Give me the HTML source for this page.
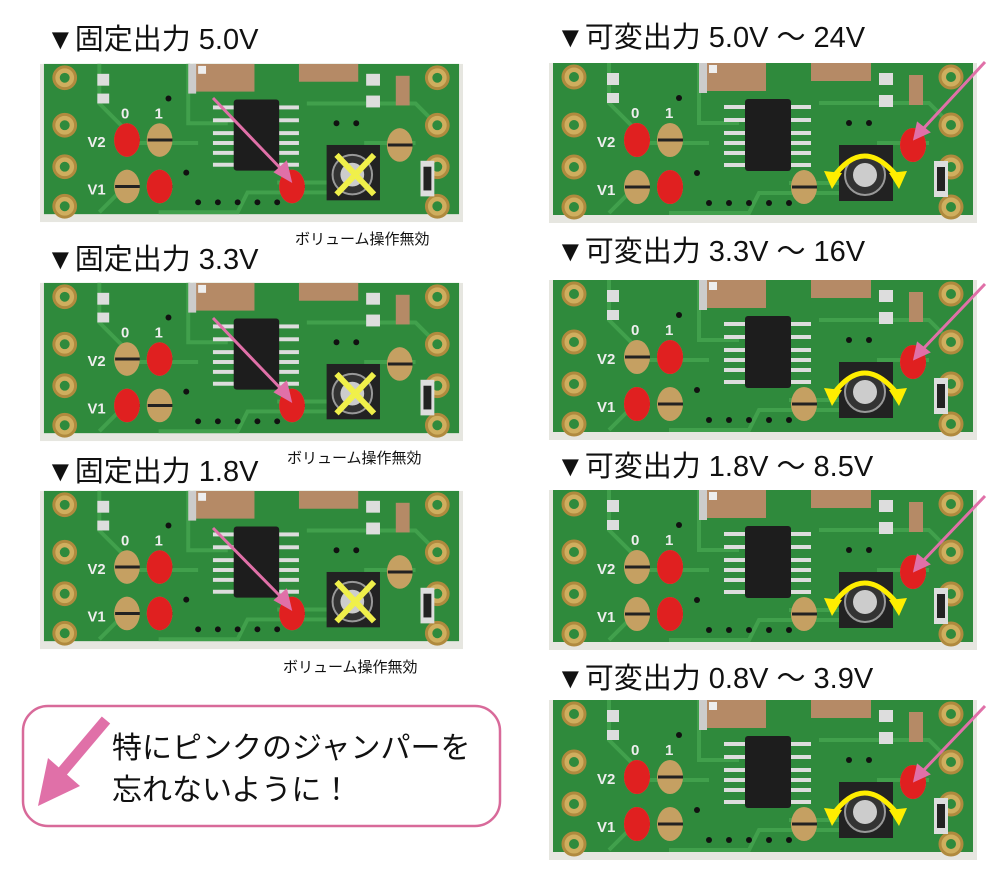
<!DOCTYPE html>
<html><head><meta charset="utf-8"><style>
body{margin:0;width:1000px;height:878px;background:#fff;position:relative;overflow:hidden;font-family:"Liberation Sans","Noto Sans CJK JP",sans-serif}
.h{position:absolute;font-size:29px;color:#111;white-space:nowrap;line-height:1}
.s{position:absolute;font-size:15px;color:#111;white-space:nowrap}
svg.p{position:absolute}
</style></head><body>
<svg width="0" height="0" style="position:absolute">
<defs>
<g id="b">
<rect x="0" y="0" width="428" height="160" fill="#e6e6e0"/>
<rect x="4" y="0" width="420" height="152" fill="#2f8a3c"/>
<path d="M60 0 L60 40 L100 80 L160 80 M150 0 L150 60 L190 60 M240 120 L330 120 L330 80 L380 80 M120 150 L200 150 L210 130 L330 130 M60 150 L90 120 M270 40 L380 40 L400 60" stroke="#41a04c" stroke-width="4" fill="none"/>
<rect x="155" y="0" width="62" height="28" fill="#b58a66"/>
<rect x="150" y="0" width="8" height="30" fill="#ccc"/>
<rect x="262" y="0" width="60" height="18" fill="#b58a66"/>
<rect x="360" y="12" width="14" height="30" fill="#b58a66"/>
<rect x="160" y="2" width="8" height="8" fill="#eee"/>
<rect x="58" y="10" width="12" height="12" fill="#ddd"/><rect x="58" y="30" width="12" height="10" fill="#ddd"/>
<rect x="330" y="10" width="14" height="12" fill="#ddd"/><rect x="330" y="32" width="14" height="12" fill="#ddd"/>
<g fill="#cfae5e" stroke="#b08a3e" stroke-width="3">
<circle cx="25" cy="14" r="11"/><circle cx="25" cy="62" r="11"/><circle cx="25" cy="104" r="11"/><circle cx="25" cy="144" r="11"/>
<circle cx="402" cy="14" r="11"/><circle cx="402" cy="62" r="11"/><circle cx="402" cy="104" r="11"/><circle cx="402" cy="144" r="11"/>
</g>
<g fill="#2f8a3c"><circle cx="25" cy="14" r="5"/><circle cx="25" cy="62" r="5"/><circle cx="25" cy="104" r="5"/><circle cx="25" cy="144" r="5"/><circle cx="402" cy="14" r="5"/><circle cx="402" cy="62" r="5"/><circle cx="402" cy="104" r="5"/><circle cx="402" cy="144" r="5"/></g>
<g fill="#c5a062"><ellipse cx="88" cy="77" rx="13" ry="17"/><ellipse cx="121" cy="77" rx="13" ry="17"/><ellipse cx="88" cy="124" rx="13" ry="17"/><ellipse cx="121" cy="124" rx="13" ry="17"/><ellipse cx="255" cy="124" rx="13" ry="17"/><ellipse cx="364" cy="82" rx="13" ry="17"/></g>
<g stroke="#222" stroke-width="3"><path d="M76 77h25M109 77h25M76 124h25M109 124h25M243 124h25M352 82h25"/></g>
<g fill="#ddd"><rect x="175" y="42" width="22" height="4"/><rect x="175" y="55" width="22" height="4"/><rect x="175" y="68" width="22" height="4"/><rect x="175" y="78" width="22" height="4"/><rect x="175" y="88" width="22" height="4"/><rect x="175" y="100" width="22" height="4"/>
<rect x="240" y="42" width="22" height="4"/><rect x="240" y="55" width="22" height="4"/><rect x="240" y="68" width="22" height="4"/><rect x="240" y="78" width="22" height="4"/><rect x="240" y="88" width="22" height="4"/><rect x="240" y="100" width="22" height="4"/></g>
<rect x="196" y="36" width="46" height="72" rx="3" fill="#1d1d1d"/>
<rect x="385" y="98" width="14" height="36" fill="#ddd"/><rect x="388" y="104" width="8" height="24" fill="#222"/>
<g fill="#111"><circle cx="130" cy="35" r="3"/><circle cx="160" cy="140" r="3"/><circle cx="180" cy="140" r="3"/><circle cx="200" cy="140" r="3"/><circle cx="220" cy="140" r="3"/><circle cx="240" cy="140" r="3"/><circle cx="148" cy="110" r="3"/><circle cx="300" cy="60" r="3"/><circle cx="320" cy="60" r="3"/></g>
<rect x="290" y="82" width="54" height="56" fill="#222"/>
<circle cx="316" cy="112" r="20" fill="#333" stroke="#999" stroke-width="2"/>
<circle cx="316" cy="112" r="12" fill="#ccc"/>
<g fill="#eee" font-family="Liberation Sans" font-weight="bold" font-size="15"><text x="82" y="55">0</text><text x="116" y="55">1</text><text x="48" y="84">V2</text><text x="48" y="132">V1</text></g>
</g>
<g id="x"><path d="M300 92 L338 132 M338 92 L300 132" stroke="#f0f04a" stroke-width="6"/></g>
<g id="arc"><path d="M283 116 Q315 70 350 116" stroke="#ffee00" stroke-width="5" fill="none"/><path d="M275 108 L283 126 L293 110Z M340 110 L350 126 L358 108Z" fill="#ffee00"/></g>
</defs></svg>

<div class="h" style="left:46px;top:26px">▼固定出力 5.0V</div>
<div class="h" style="left:46px;top:246px">▼固定出力 3.3V</div>
<div class="h" style="left:46px;top:458px">▼固定出力 1.8V</div>
<div class="h" style="left:556px;top:24px">▼可変出力 5.0V ～ 24V</div>
<div class="h" style="left:556px;top:238px">▼可変出力 3.3V ～ 16V</div>
<div class="h" style="left:556px;top:453px">▼可変出力 1.8V ～ 8.5V</div>
<div class="h" style="left:556px;top:665px">▼可変出力 0.8V ～ 3.9V</div>

<svg class="p" style="left:40px;top:63px" width="423" height="160" viewBox="0 0 428 160"><use href="#b"/><use href="#x"/>
<g fill="#e02020"><ellipse cx="88" cy="77" rx="13" ry="17"/><ellipse cx="121" cy="124" rx="13" ry="17"/><ellipse cx="255" cy="124" rx="13" ry="17"/></g></svg>
<svg class="p" style="left:40px;top:282px" width="423" height="160" viewBox="0 0 428 160"><use href="#b"/><use href="#x"/>
<g fill="#e02020"><ellipse cx="121" cy="77" rx="13" ry="17"/><ellipse cx="88" cy="124" rx="13" ry="17"/><ellipse cx="255" cy="124" rx="13" ry="17"/></g></svg>
<svg class="p" style="left:40px;top:490px" width="423" height="160" viewBox="0 0 428 160"><use href="#b"/><use href="#x"/>
<g fill="#e02020"><ellipse cx="121" cy="77" rx="13" ry="17"/><ellipse cx="121" cy="124" rx="13" ry="17"/><ellipse cx="255" cy="124" rx="13" ry="17"/></g></svg>

<svg class="p" style="left:549px;top:63px" width="428" height="160" viewBox="0 0 428 160"><use href="#b"/><use href="#arc"/>
<g fill="#e02020"><ellipse cx="88" cy="77" rx="13" ry="17"/><ellipse cx="121" cy="124" rx="13" ry="17"/><ellipse cx="364" cy="82" rx="13" ry="17"/></g></svg>
<svg class="p" style="left:549px;top:280px" width="428" height="160" viewBox="0 0 428 160"><use href="#b"/><use href="#arc"/>
<g fill="#e02020"><ellipse cx="121" cy="77" rx="13" ry="17"/><ellipse cx="88" cy="124" rx="13" ry="17"/><ellipse cx="364" cy="82" rx="13" ry="17"/></g></svg>
<svg class="p" style="left:549px;top:490px" width="428" height="160" viewBox="0 0 428 160"><use href="#b"/><use href="#arc"/>
<g fill="#e02020"><ellipse cx="121" cy="77" rx="13" ry="17"/><ellipse cx="121" cy="124" rx="13" ry="17"/><ellipse cx="364" cy="82" rx="13" ry="17"/></g></svg>
<svg class="p" style="left:549px;top:700px" width="428" height="160" viewBox="0 0 428 160"><use href="#b"/><use href="#arc"/>
<g fill="#e02020"><ellipse cx="88" cy="77" rx="13" ry="17"/><ellipse cx="88" cy="124" rx="13" ry="17"/><ellipse cx="364" cy="82" rx="13" ry="17"/></g></svg>

<div class="s" style="left:295px;top:228px">ボリューム操作無効</div>
<div class="s" style="left:287px;top:447px">ボリューム操作無効</div>
<div class="s" style="left:283px;top:656px">ボリューム操作無効</div>

<svg class="p" style="left:0;top:0" width="1000" height="878">
<g stroke="#e070a8" stroke-width="3" fill="#e070a8">
<line x1="213" y1="98" x2="284" y2="172"/><path d="M290 180 L276 172 L286 163Z"/>
<line x1="213" y1="318" x2="284" y2="392"/><path d="M290 400 L276 392 L286 383Z"/>
<line x1="213" y1="528" x2="284" y2="600"/><path d="M290 608 L276 600 L286 591Z"/>
<line x1="985" y1="62" x2="922" y2="130"/><path d="M915 138 L918 124 L928 132Z"/>
<line x1="985" y1="284" x2="922" y2="350"/><path d="M915 358 L918 344 L928 352Z"/>
<line x1="985" y1="496" x2="922" y2="562"/><path d="M915 570 L918 556 L928 564Z"/>
<line x1="985" y1="706" x2="922" y2="772"/><path d="M915 780 L918 766 L928 774Z"/>
</g>
<rect x="23" y="706" width="477" height="120" rx="25" fill="none" stroke="#d86a9a" stroke-width="2.5"/>
<path d="M106 720 L62 772" stroke="#e070a8" stroke-width="11"/>
<path d="M38 806 L48 758 L80 786Z" fill="#e070a8"/>
</svg>
<div style="position:absolute;left:112px;top:728px;font-size:30px;color:#111;line-height:42px;white-space:nowrap">特にピンクのジャンパーを<br>忘れないように！</div>
</body></html>
